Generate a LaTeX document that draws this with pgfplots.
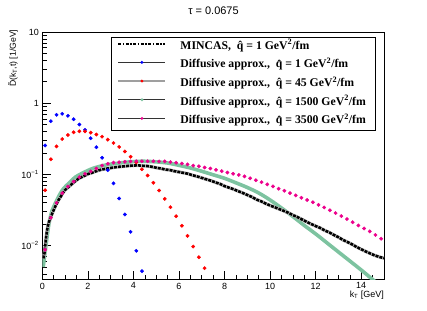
\documentclass[border=0pt]{standalone}
\usepackage{fontspec}
\setmainfont{Liberation Sans}
\newfontfamily\serifbf{Liberation Serif}
\usepackage{pgfplots}
\pgfplotsset{compat=1.18}
\definecolor{tealg}{RGB}{125,195,160}
\newcommand{\legfont}{\fontsize{11.8}{13}\selectfont\serifbf\bfseries}
\begin{document}
\begin{tikzpicture}
\useasboundingbox (0,0) rectangle (427bp,311bp);
\node[font=\fontsize{11}{13}\selectfont] at (213.5bp,300bp) {τ = 0.0675};
\begin{axis}[
  at={(42.3bp,31.7bp)}, anchor=south west,
  scale only axis, width=341.7bp, height=247.3bp,
  xmin=0, xmax=15, ymode=log, ymin=0.00336, ymax=10,
  xtick={0,2,4,6,8,10,12,14},
  xticklabels={0,2,4,6,8,10,12,14},
  minor xtick={0.5,1,1.5,2.5,3,3.5,4.5,5,5.5,6.5,7,7.5,8.5,9,9.5,10.5,11,11.5,12.5,13,13.5,14.5},
  ytick={0.01,0.1,1,10},
  yticklabels={10\textsuperscript{−2},10\textsuperscript{−1},1,10},
  minor ytick={0.004,0.005,0.006,0.007,0.008,0.009,0.02,0.03,0.04,0.05,0.06,0.07,0.08,0.09,0.2,0.3,0.4,0.5,0.6,0.7,0.8,0.9,2,3,4,5,6,7,8,9},
  tick align=inside, xtick pos=bottom, ytick pos=left,
  major tick length=8.5bp, minor tick length=4.3bp,
  tick style={black, line width=0.6bp},
  axis line style={line width=0.8bp},
  tick label style={font=\fontsize{9}{10}\selectfont},
  xlabel={k\textsubscript{T} [GeV]},
  xlabel style={at={(axis description cs:1,-0.066)}, anchor=east, inner sep=0pt, font=\fontsize{9}{10}\selectfont},
  ylabel={\~{D}(k\textsubscript{T},t) [1/GeV]},
  ylabel style={at={(axis description cs:-0.0857,1.01)}, anchor=east, inner sep=0pt, font=\fontsize{8.7}{10}\selectfont},
  legend style={at={(0.201,0.980)}, anchor=north west, draw=black, line width=0.7bp, fill=white,
    inner xsep=6bp, inner ysep=0bp, font=\legfont,
    nodes={inner xsep=3bp, inner ysep=3.85bp, text height=8bp, text depth=3bp}},
  legend cell align=left,
]
% green q=1500
\addplot[tealg, line width=3.6bp, smooth, forget plot] coordinates {
(0.04,0.0050)(0.15,0.0095)(0.29,0.0202)(0.43,0.0311)(0.56,0.0387)(0.87,0.0594)(1.2,0.077)(1.45,0.0914)
(1.8,0.1056)(2.18,0.120)(2.5,0.129)(2.92,0.138)(3.3,0.143)(3.65,0.148)(4.0,0.151)(4.4,0.153)
(5.0,0.150)(5.5,0.1445)(6.0,0.134)(6.5,0.123)(7.0,0.1106)(7.5,0.0987)(8.0,0.0881)(8.5,0.0762)
(9.0,0.0655)(9.5,0.0548)(10.0,0.0437)(10.5,0.0337)(11.0,0.0256)(11.5,0.0192)(12.0,0.0146)
(12.5,0.0109)(13.0,0.00813)(13.5,0.00608)(14.0,0.00454)(14.5,0.00334)(14.6,0.00313)};
% MINCAS
\pgfplotstableread{
k v
0.05 0.0066
0.10 0.0080
0.15 0.0118
0.20 0.0158
0.25 0.0192
0.30 0.0218
0.40 0.0265
0.50 0.0316
0.60 0.0372
0.70 0.0430
0.80 0.0482
0.90 0.0548
1.0 0.0604
1.2 0.0687
1.4 0.0782
1.6 0.0876
1.8 0.0940
2.0 0.101
2.2 0.106
2.4 0.112
2.6 0.117
2.8 0.120
3.0 0.123
3.2 0.126
3.4 0.128
3.6 0.130
3.8 0.132
4.0 0.133
4.2 0.134
4.4 0.132
4.6 0.131
4.8 0.128
5.0 0.124
5.2 0.121
5.4 0.117
5.6 0.115
5.8 0.111
6.0 0.108
6.2 0.105
6.4 0.102
6.6 0.0971
6.8 0.0935
7.0 0.0893
7.2 0.0853
7.4 0.0816
7.6 0.0772
7.8 0.0735
8.0 0.0685
8.2 0.0650
8.4 0.0618
8.6 0.0581
8.8 0.0548
9.0 0.0514
9.2 0.0482
9.4 0.0444
9.6 0.0419
9.8 0.0390
10.0 0.0366
10.2 0.0345
10.4 0.0326
10.6 0.0307
10.8 0.0289
11.0 0.0268
11.2 0.0251
11.4 0.0233
11.6 0.0216
11.8 0.0201
12.0 0.0188
12.2 0.0177
12.4 0.0163
12.6 0.0153
12.8 0.0141
13.0 0.0131
13.2 0.0120
13.4 0.0112
13.6 0.0104
13.8 0.00955
14.0 0.00887
14.2 0.00826
14.4 0.00774
14.6 0.00726
14.8 0.00692
15.0 0.00665
}\mincas
\addplot[gray!45, line width=3.4bp, forget plot] table[x=k,y=v] {\mincas};
\addplot[black, line width=2.6bp, dash pattern=on 3bp off 1bp, forget plot] table[x=k,y=v] {\mincas};
% blue q=1
\addplot[only marks, mark=*, mark size=1.7bp, blue, forget plot] coordinates {
(0.125,0.255)(0.375,0.559)(0.625,0.687)(0.875,0.710)(1.125,0.665)(1.375,0.596)(1.625,0.502)(1.875,0.423)
(2.125,0.322)(2.375,0.241)(2.625,0.171)(2.875,0.115)(3.125,0.075)(3.375,0.0459)(3.625,0.0274)(3.875,0.0156)
(4.125,0.00845)(4.375,0.00437)};
% red q=45
\addplot[only marks, mark=*, mark size=1.7bp, red, forget plot] coordinates {
(0.125,0.060)(0.375,0.163)(0.625,0.247)(0.875,0.314)(1.125,0.357)(1.375,0.390)(1.625,0.403)(1.875,0.403)
(2.125,0.386)(2.375,0.363)(2.625,0.339)(2.875,0.308)(3.125,0.276)(3.375,0.243)(3.625,0.210)(3.875,0.177)
(4.125,0.147)(4.375,0.118)(4.625,0.0965)(4.875,0.0762)(5.125,0.0594)(5.375,0.0454)(5.625,0.0346)(5.875,0.0259)
(6.125,0.0190)(6.375,0.0137)(6.625,0.0097)(6.875,0.00687)(7.125,0.00482)(7.375,0.00327)};
% magenta q=3500
\addplot[only marks, mark=*, mark size=1.7bp, magenta, forget plot] coordinates {
(0.125,0.00873)(0.375,0.0246)(0.625,0.0399)(0.875,0.0545)(1.125,0.0676)(1.375,0.0795)(1.625,0.0914)(1.875,0.102)
(2.125,0.110)(2.375,0.121)(2.625,0.133)(2.875,0.141)(3.125,0.146)(3.375,0.148)(3.625,0.150)(3.875,0.152)
(4.125,0.153)(4.375,0.153)(4.625,0.153)(4.875,0.153)(5.125,0.152)(5.375,0.152)(5.625,0.149)(5.875,0.146)
(6.125,0.142)(6.375,0.138)(6.625,0.133)(6.875,0.130)(7.125,0.125)(7.375,0.121)(7.625,0.116)(7.875,0.111)
(8.125,0.106)(8.375,0.102)(8.625,0.0981)(8.875,0.0937)(9.125,0.0881)(9.375,0.0829)(9.625,0.0777)(9.875,0.0724)
(10.125,0.0678)(10.375,0.0630)(10.625,0.0589)(10.875,0.0546)(11.125,0.0506)(11.375,0.0469)(11.625,0.0436)(11.875,0.0406)
(12.125,0.0374)(12.375,0.0343)(12.625,0.0313)(12.875,0.0286)(13.125,0.0260)(13.375,0.0236)(13.625,0.0213)(13.875,0.0192)
(14.125,0.0174)(14.375,0.0158)(14.625,0.0141)(14.875,0.0125)};
% legend
\addlegendimage{legend image code/.code={
  \draw[black, line width=2.2bp, dash pattern=on 3bp off 1.5bp on 1.5bp off 1.5bp] (0bp,3bp) -- (47bp,3bp);
  \path[draw=none] (0bp,0bp) -- (59bp,0bp);}}
\addlegendentry{MINCAS,\ \ \^{q} = 1 GeV\textsuperscript{2}/fm}
\addlegendimage{legend image code/.code={
  \draw[gray!40!black, line width=0.8bp] (0bp,3bp) -- (47bp,3bp);
  \fill[blue, draw=none] (23.5bp,3bp) circle (1.6bp);
  \path[draw=none] (0bp,0bp) -- (59bp,0bp);}}
\addlegendentry{Diffusive approx.,\ \ \^{q} = 1 GeV\textsuperscript{2}/fm}
\addlegendimage{legend image code/.code={
  \draw[gray!75, line width=1.5bp] (0bp,3bp) -- (47bp,3bp);
  \fill[red, draw=none] (23.5bp,3bp) circle (1.6bp);
  \path[draw=none] (0bp,0bp) -- (59bp,0bp);}}
\addlegendentry{Diffusive approx.,\ \ \^{q} = 45 GeV\textsuperscript{2}/fm}
\addlegendimage{legend image code/.code={
  \draw[gray!40!black, line width=0.8bp] (0bp,3bp) -- (47bp,3bp);
  \fill[tealg, draw=none] (23.5bp,3bp) circle (1.6bp);
  \path[draw=none] (0bp,0bp) -- (59bp,0bp);}}
\addlegendentry{Diffusive approx.,\ \ \^{q} = 1500 GeV\textsuperscript{2}/fm}
\addlegendimage{legend image code/.code={
  \draw[gray!40!black, line width=0.8bp] (0bp,3bp) -- (47bp,3bp);
  \fill[magenta, draw=none] (23.5bp,3bp) circle (1.6bp);
  \path[draw=none] (0bp,0bp) -- (59bp,0bp);}}
\addlegendentry{Diffusive approx.,\ \ \^{q} = 3500 GeV\textsuperscript{2}/fm}
\end{axis}
\end{tikzpicture}
\end{document}
